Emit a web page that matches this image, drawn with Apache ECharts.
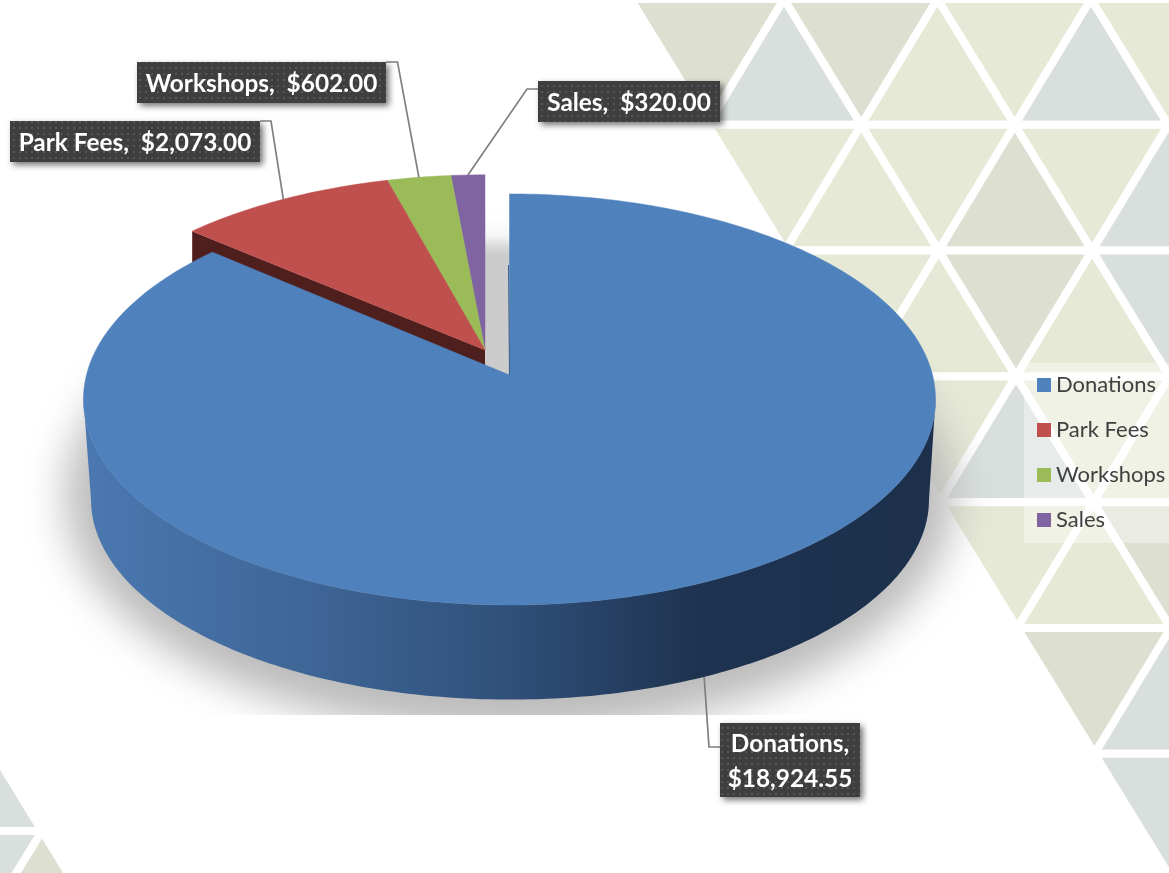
<!DOCTYPE html>
<html><head><meta charset="utf-8">
<style>html,body{margin:0;padding:0;background:#fff}#c{width:1169px;height:873px}</style>
<script src="https://cdn.jsdelivr.net/npm/echarts@6/dist/echarts.min.js"></script>
</head><body><div id="c"></div>
<script>
// ---- data ----
const categories = ['Donations', 'Park Fees', 'Workshops', 'Sales'];
const values = [18924.55, 2073.00, 602.00, 320.00];
const colors = ['#4F81BD', '#C0504D', '#9BBB59', '#8064A2'];
// background triangle lattice: colour key per row
const triRows = ['dbdllbl', 'llldlb', 'lldlb', 'lbll', 'lld', 'db', 'b'];
const triColors = { l: '#E6E9D5', d: '#DDDFD1', b: '#D8DFDC' };

// ---- layout ----
const total = values.reduce((a, b) => a + b, 0);
const C = 0.119;                                       // perspective strength
const topMain = { x: 509.5, y: 375, a: 202.6, d: 423 };  // exploded slice, top face
const topRest = { x: 485, y: 350, a: 196, d: 417 };      // the other slices, top face
const botMain = { x: 510, y: 476, a: 197, d: 416 };      // exploded slice, bottom face
const depth = 95;
const labelBoxes = [
  { x: 720, y: 723, w: 140, h: 74, elbow: [709, 747], from: [720, 747], twoLine: true },
  { x: 10, y: 121, w: 250, h: 41, elbow: [271, 121], from: [260, 121] },
  { x: 137, y: 62, w: 249, h: 41, elbow: [397.5, 62], from: [386, 62] },
  { x: 538, y: 81, w: 182, h: 41, elbow: [527, 89], from: [538, 89] }
];
const rad = d => d * Math.PI / 180;
function pt(g, deg) {
  const u = Math.sin(rad(deg)), v = Math.cos(rad(deg)), w = 1 + C * v;
  return [g.x + g.d * u / w, g.y - g.a * v / w];
}
function arc(g, from, to) {
  const n = Math.max(2, Math.ceil(Math.abs(to - from))), out = [];
  for (let i = 0; i <= n; i++) out.push(pt(g, from + (to - from) * i / n));
  return out;
}
function angles(idx) {
  let s = 0;
  for (let i = 0; i < idx; i++) s += values[i];
  return [s / total * 360, (s + values[idx]) / total * 360];
}
const money = v => '$' + v.toLocaleString('en-US', { minimumFractionDigits: 2, maximumFractionDigits: 2 });

function makePattern() {
  const cv = document.createElement('canvas');
  cv.width = 6; cv.height = 6;
  const x = cv.getContext('2d');
  x.fillStyle = '#3E3E3E'; x.fillRect(0, 0, 6, 6);
  x.fillStyle = '#565656'; x.fillRect(1, 1, 2, 2);
  return { image: cv, repeat: 'repeat' };
}
const pattern = makePattern();

function labelEls(idx, anchor) {
  const b = labelBoxes[idx];
  const sep = b.twoLine ? ',\n' : ',  ';
  return [
    { type: 'polyline', shape: { points: [b.from, b.elbow, anchor] },
      style: { stroke: '#7F7F7F', lineWidth: 1.7, fill: null } },
    { type: 'rect', shape: { x: b.x, y: b.y, width: b.w, height: b.h },
      style: { fill: pattern, shadowBlur: 6, shadowOffsetX: 3, shadowOffsetY: 3, shadowColor: 'rgba(0,0,0,0.55)' } },
    { type: 'text', x: b.x + b.w / 2, y: b.y + b.h / 2 + 2,
      style: { text: categories[idx] + sep + money(values[idx]), fill: '#fff',
        font: 'bold 24.4px Lato', lineHeight: 35, align: 'center', verticalAlign: 'middle',
        textAlign: 'center', textVerticalAlign: 'middle' } }
  ];
}

function renderDecor() {
  // soft drop shadow: the shape itself is parked off-canvas, only its blur lands on the page
  const off = 3000, cx = 510, cy = 495, rx = 445, ry = 240, ring = [];
  for (let t = 0; t < 360; t += 2) ring.push([cx - off + rx * Math.cos(rad(t)), cy + ry * Math.sin(rad(t))]);
  const a = pt(topRest, 0);
  const edgeL = [topRest.x, topRest.y + 16], edgeR = [topMain.x, topMain.y];
  return { type: 'group', children: [
    { type: 'polygon', shape: { points: ring },
      style: { fill: '#000', shadowBlur: 40, shadowOffsetX: off, shadowColor: '#BCBCBC' } },
    { type: 'rect', shape: { x: 45, y: 715, width: 930, height: 80 }, style: { fill: '#fff' } },
    { type: 'polygon', shape: { points: [[topRest.x, a[1] + 62], [topMain.x, a[1] + 62], edgeR, edgeL] },
      style: { fill: { type: 'linear', x: 0, y: 0, x2: 0, y2: 1, colorStops: [
        { offset: 0, color: 'rgba(204,204,204,0)' }, { offset: 0.14, color: '#CCCCCC' }, { offset: 1, color: '#CCCCCC' }] } } }
  ] };
}

function renderSlice(idx) {
  const [s, e] = angles(idx);
  const g = idx === 0 ? topMain : topRest;
  const kids = [];
  const top = [[g.x, g.y]].concat(arc(g, s, e));
  if (idx === 0) {
    const wFrom = 96.8, wTo = 263.2;
    const wall = arc(topMain, wFrom, wTo).concat(arc(botMain, wTo, wFrom));
    kids.push({ type: 'polygon', shape: { points: wall },
      style: { fill: { type: 'linear', x: 0, y: 0, x2: 1, y2: 0, colorStops: [
        { offset: 0, color: '#4A78B0' }, { offset: 0.25, color: '#3F6798' },
        { offset: 0.5, color: '#30507A' }, { offset: 0.72, color: '#1E3350' },
        { offset: 1, color: '#1C304C' }] } } });
  }
  if (idx === 1) {
    const c = pt(g, s);
    kids.push({ type: 'polygon', shape: { points: [c, [g.x, g.y], [g.x, g.y + depth], [c[0], c[1] + depth]] },
      style: { fill: '#4F1F1E' } });
  }
  kids.push({ type: 'polygon', shape: { points: top },
    style: { fill: colors[idx], stroke: colors[idx], lineWidth: 0.5 } });
  if (idx === 0) {
    kids.push({ type: 'line', shape: { x1: g.x - 1, y1: g.y - 110, x2: g.x, y2: g.y },
      style: { stroke: '#3A5F8C', lineWidth: 1 } });
  }
  const mid = (s + e) / 2;
  kids.push(...labelEls(idx, idx === 0 ? pt(botMain, mid) : pt(g, mid)));
  return { type: 'group', children: kids };
}

// background triangles
function latticeX(h, k) { return 784 + 76.75 * h + 0.6 * k; }
function latticeY(k) { return -1 + 125.8 * k; }
const P = (h, k) => [latticeX(h, k), latticeY(k)];
const graphics = [];
function addTri(points, fill) {
  graphics.push({ type: 'polygon', silent: true, z: 0, shape: { points },
    style: { fill, stroke: '#fff', lineWidth: 8 } });
}
triRows.forEach((row, k) => {
  [...row].forEach((ch, i) => {
    const h = k - 1 + i;
    const down = ((h + k) % 2 + 2) % 2 === 1;
    addTri(down ? [P(h - 1, k), P(h + 1, k), P(h, k + 1)] : [P(h, k), P(h - 1, k + 1), P(h + 1, k + 1)], triColors[ch]);
  });
});
addTri([[-35, 705], [42, 831], [-111, 831]], triColors.b);
addTri([[-111, 831], [42, 831], [-35, 957]], triColors.b);
addTri([[42, 831], [-35, 957], [119, 957]], triColors.d);

const chart = echarts.init(document.getElementById('c'), null, { renderer: 'canvas' });
const drawOrder = [3, 2, 1, 0];
chart.setOption({
  animation: false,
  backgroundColor: '#fff',
  graphic: { elements: graphics },
  legend: {
    orient: 'vertical', left: 1024, top: 363,
    data: categories,
    icon: 'rect', itemWidth: 14, itemHeight: 14, itemGap: 23,
    padding: [11, 4, 12, 13],
    backgroundColor: 'rgba(255,255,255,0.4)',
    textStyle: { color: '#404040', fontFamily: 'Lato', fontSize: 22 },
    selectedMode: false
  },
  series: [
    { type: 'custom', name: 'decor', coordinateSystem: 'none', silent: true, z: 2, data: [[0]], renderItem: renderDecor }
  ].concat(drawOrder.map(i => ({
    type: 'custom', name: categories[i], coordinateSystem: 'none', silent: true, z: 3,
    itemStyle: { color: colors[i] },
    data: [[values[i]]],
    renderItem: () => renderSlice(i)
  })))
});
</script></body></html>
